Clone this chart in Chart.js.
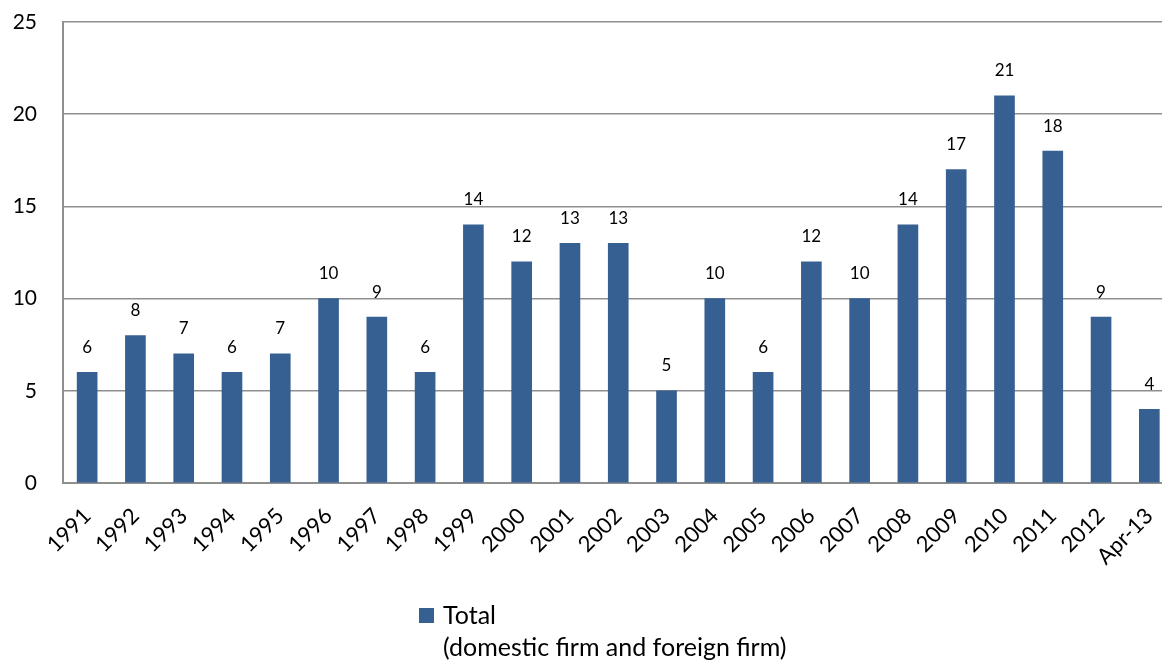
<!DOCTYPE html>
<html>
<head>
<meta charset="utf-8">
<script src="https://cdn.jsdelivr.net/npm/chart.js@4.4.1/dist/chart.umd.min.js"></script>
<style>
  html, body { margin: 0; padding: 0; background: #fff; overflow: hidden; }
  #wrap { position: relative; width: 1188px; height: 661px; }
  #legend {
    position: absolute; left: 419px; top: 598px;
    font-family: Lato, sans-serif; font-size: 25px; color: #000; line-height: 32px;
  }
  #legend .box {
    display: inline-block; width: 15px; height: 15px; background: #376092;
    margin-right: 9px; vertical-align: 1px;
  }
  #legend .sub { padding-left: 24px; }
</style>
</head>
<body>
<div id="wrap">
  <canvas id="chart" width="1188" height="661"></canvas>
  <div id="legend">
    <div><span class="box"></span>Total</div>
    <div class="sub">(domestic firm and foreign firm)</div>
  </div>
</div>
<script>
const categories = ['1991', '1992', '1993', '1994', '1995', '1996', '1997', '1998', '1999', '2000',
  '2001', '2002', '2003', '2004', '2005', '2006', '2007', '2008', '2009', '2010', '2011', '2012', 'Apr-13'];
const totals = [6, 8, 7, 6, 7, 10, 9, 6, 14, 12, 13, 13, 5, 10, 6, 12, 10, 14, 17, 21, 18, 9, 4];
const yTicks = [0, 5, 10, 15, 20, 25];

const barColor = '#376092';
const gridColor = '#8f8f8f';

// value labels drawn over each bar
const valueLabels = {
    id: 'valueLabels',
    afterDatasetsDraw(chart) {
        const ctx = chart.ctx;
        const meta = chart.getDatasetMeta(0);
        ctx.save();
        ctx.font = '17px Lato, sans-serif';
        ctx.fillStyle = '#000';
        ctx.textAlign = 'center';
        ctx.textBaseline = 'middle';
        meta.data.forEach((bar, i) => {
            ctx.fillText(String(totals[i]), bar.x, bar.y - 25);
        });
        ctx.restore();
    }
};

new Chart(document.getElementById('chart'), {
    type: 'bar',
    data: {
        labels: categories,
        datasets: [{
            label: 'Total (domestic firm and foreign firm)',
            data: totals,
            backgroundColor: barColor,
            barThickness: 20
        }]
    },
    options: {
        responsive: false,
        animation: false,
        layout: { padding: { top: 22, left: 0, right: 0, bottom: 0 } },
        plugins: {
            legend: { display: false },
            tooltip: { enabled: false }
        },
        scales: {
            x: {
                grid: { display: false, drawTicks: false },
                border: { display: true, color: gridColor, width: 2 },
                ticks: {
                    color: '#000',
                    font: { family: 'Lato', size: 22 },
                    minRotation: 45,
                    maxRotation: 45,
                    autoSkip: false,
                    padding: 20
                },
                afterFit: s => { s.height = 178; }
            },
            y: {
                min: 0,
                max: 25,
                afterBuildTicks: s => { s.ticks = yTicks.map(v => ({ value: v })); },
                // invisible tick marks keep the labels away from the axis
                grid: { color: gridColor, lineWidth: 1.5, drawTicks: true, tickLength: 20, tickColor: 'rgba(0,0,0,0)' },
                border: { display: true, color: gridColor, width: 2 },
                ticks: {
                    color: '#000',
                    font: { family: 'Lato', size: 21 },
                    padding: 6
                },
                afterFit: s => { s.width = 63; }
            }
        }
    },
    plugins: [valueLabels]
});
</script>
</body>
</html>
